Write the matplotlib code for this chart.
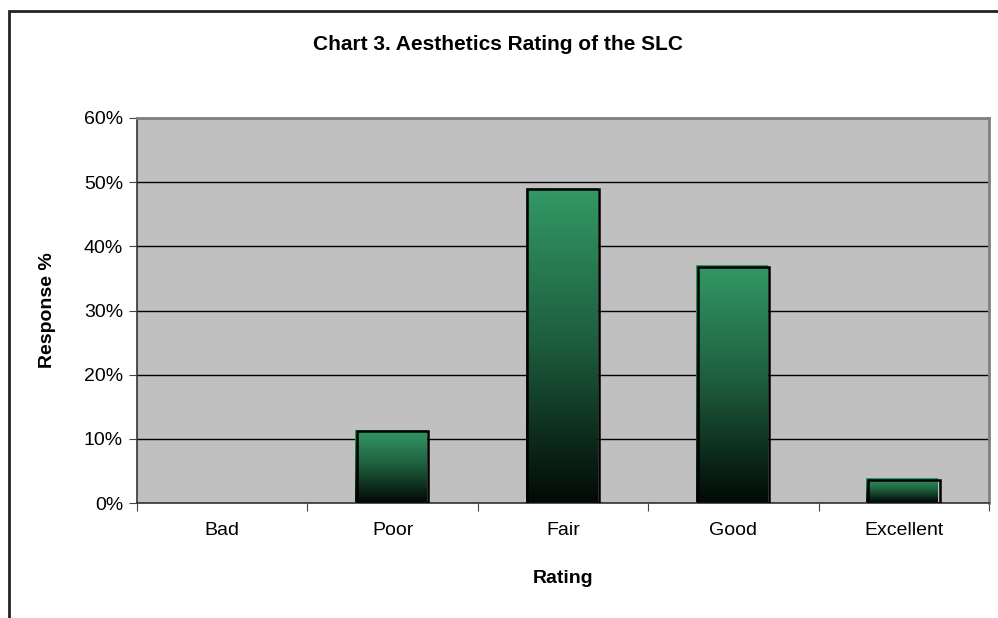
import numpy as np
import matplotlib.pyplot as plt
from matplotlib.colors import LinearSegmentedColormap
from matplotlib.patches import Rectangle
from matplotlib.ticker import PercentFormatter, FixedLocator, NullFormatter

plt.rcParams['font.family'] = ['Liberation Sans', 'DejaVu Sans']

categories = ['Bad', 'Poor', 'Fair', 'Good', 'Excellent']
values = [0.0, 11.2, 48.9, 36.8, 3.6]

title = 'Chart 3. Aesthetics Rating of the SLC'

fig = plt.figure(figsize=(9.98, 6.18), dpi=100)
ax = fig.add_axes([137 / 998, 1 - 503 / 618, (989 - 137) / 998, (503 - 118) / 618])

# outer chart border (runs off the right and bottom edge)
fig.patches.append(Rectangle((9 / 998, -0.1), 1.2, 1.1 - 11 / 618, transform=fig.transFigure,
                             fill=False, edgecolor='#222222', linewidth=2))

ax.set_facecolor('#C0C0C0')
x = np.arange(len(categories))
width = 0.42

cmap = LinearSegmentedColormap.from_list('grn', ['#020a06', '#1d5c3c', '#339966'])
grad = np.linspace(0, 1, 256).reshape(-1, 1)

for xi, v in zip(x, values):
    if v <= 0:
        continue
    ax.imshow(grad, cmap=cmap, origin='lower', aspect='auto',
              extent=[xi - width / 2 - 0.01, xi + width / 2 - 0.01, 0.15, v + 0.15], zorder=3)
    ax.bar(xi, v, width=width, fill=False, edgecolor='black', linewidth=1.8, zorder=4)

ax.set_xlim(-0.5, len(categories) - 0.5)
ax.set_ylim(0, 60)
ax.set_yticks(np.arange(0, 61, 10))
ax.yaxis.set_major_formatter(PercentFormatter(decimals=0))
ax.yaxis.grid(True, color='black', linewidth=1)
ax.set_axisbelow(True)

ax.xaxis.set_major_locator(FixedLocator(np.arange(-0.5, len(categories), 1)))
ax.xaxis.set_major_formatter(NullFormatter())
ax.xaxis.set_minor_locator(FixedLocator(x))
ax.set_xticklabels(categories, minor=True)
ax.tick_params(axis='x', which='minor', length=0, pad=14, labelsize=14)
ax.tick_params(axis='x', which='major', length=6, color='#444444')
ax.tick_params(axis='y', length=6, color='#444444', labelsize=14, pad=4)

for s in ['left', 'bottom']:
    ax.spines[s].set_color('#333333')
    ax.spines[s].set_linewidth(1.2)
for s in ['top', 'right']:
    ax.spines[s].set_color('#808080')
    ax.spines[s].set_linewidth(2)

ax.set_xlabel('Rating', fontweight='bold', fontsize=14, labelpad=22)
ax.set_ylabel('Response %', fontweight='bold', fontsize=14, labelpad=20)
fig.text(0.499, 1 - 45 / 618, title, ha='center', va='center', fontweight='bold', fontsize=15)

fig.savefig('out.png', dpi=100)
